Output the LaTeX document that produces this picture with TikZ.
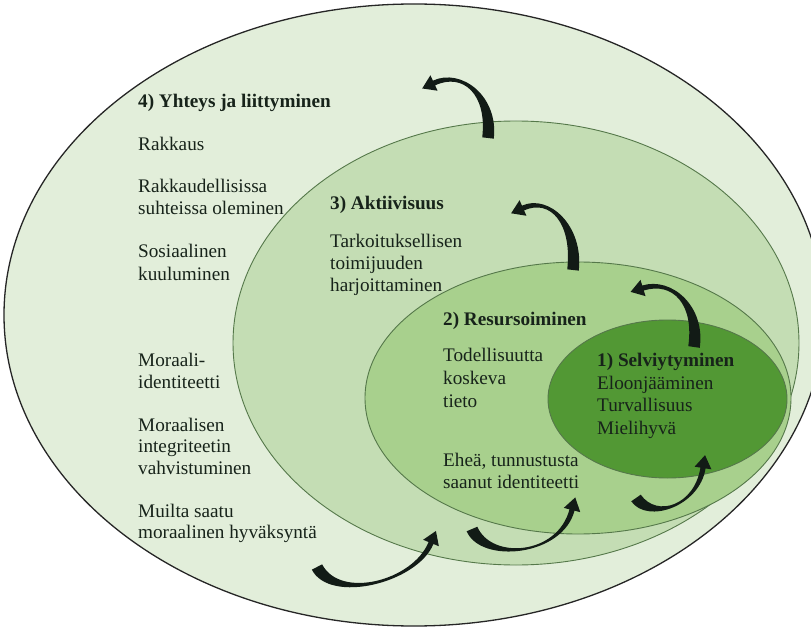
\documentclass[tikz,border=0pt]{standalone}
\usepackage{fontspec}
\setmainfont{Liberation Serif}
\usetikzlibrary{calc}
\definecolor{outerfill}{HTML}{E2EEDA}
\definecolor{aktfill}{HTML}{C4DDB4}
\definecolor{resfill}{HTML}{A8D08D}
\definecolor{selfill}{HTML}{529834}
\definecolor{rimline}{HTML}{55784A}
\definecolor{txt}{HTML}{17231A}
\definecolor{arr}{HTML}{121B16}
\tikzset{
  rim/.style={draw=rimline, line width=0.9pt},
  lbl/.style={anchor=base west, inner sep=0pt, text=txt, font=\fontsize{19.2}{22}\selectfont},
  hdr/.style={lbl, font=\fontsize{19.2}{22}\selectfont\bfseries},
  arrowfill/.style={fill=arr, draw=none}
}
\newcommand{\tkarrow}[5]{%
  \coordinate (#1-0) at #2; \coordinate (#1-1) at #3;
  \coordinate (#1-2) at #4; \coordinate (#1-3) at #5;
  \fill[arrowfill]
    ($(#1-0)!5.8pt!90:(#1-1)$)
    .. controls ($(#1-1)!5.8pt!-90:(#1-0)$) and ($(#1-2)!2.6pt!90:(#1-3)$) ..
    ($(#1-3)!2.6pt!-90:(#1-2)$)
    -- ($(#1-3)!8.5pt!-90:(#1-2)$)
    -- ($(#1-3)!13pt!180:(#1-2)$)
    -- ($(#1-3)!8.5pt!90:(#1-2)$)
    -- ($(#1-3)!2.6pt!90:(#1-2)$)
    .. controls ($(#1-2)!2.6pt!-90:(#1-3)$) and ($(#1-1)!5.8pt!90:(#1-0)$) ..
    ($(#1-0)!5.8pt!-90:(#1-1)$) -- cycle;
}
\begin{document}
\begin{tikzpicture}[x=1pt,y=-1pt]
\useasboundingbox (0,0) rectangle (811,628);
\fill[white] (0,0) rectangle (811,628);
\clip (0,0) rectangle (811,628);
% ellipses
\filldraw[fill=outerfill, draw=black!85, line width=1.3pt] (414,315) ellipse [x radius=410pt, y radius=311pt];
\filldraw[fill=aktfill, rim] (516,343) ellipse [x radius=283pt, y radius=222pt];
\filldraw[fill=resfill, rim] (578,398) ellipse [x radius=213pt, y radius=136pt];
\filldraw[fill=selfill, rim] (667.5,399) ellipse [x radius=119.5pt, y radius=79pt];
% level 4 texts
\node[hdr] (h4) at (138,108) {4) Yhteys ja liittyminen};
\node[lbl] (a1) at (138,150.5) {Rakkaus};
\node[lbl] (a2) at (138,192.5) {Rakkaudellisissa};
\node[lbl] (a3) at (138,214.5) {suhteissa oleminen};
\node[lbl] (a4) at (138,258) {Sosiaalinen};
\node[lbl] (a5) at (138,280) {kuuluminen};
\node[lbl] (a6) at (138,366) {Moraali-};
\node[lbl] (a7) at (138,388) {identiteetti};
\node[lbl] (a8) at (138,431) {Moraalisen};
\node[lbl] (a9) at (138,452.5) {integriteetin};
\node[lbl] (a10) at (138,474) {vahvistuminen};
\node[lbl] (a11) at (138,517) {Muilta saatu};
\node[lbl] (a12) at (138,538.5) {moraalinen hyväksyntä};
% level 3 texts
\node[hdr] (h3) at (330,209.5) {3) Aktiivisuus};
\node[lbl] (b1) at (330,248) {Tarkoituksellisen};
\node[lbl] (b2) at (330,270) {toimijuuden};
\node[lbl] (b3) at (330,292) {harjoittaminen};
% level 2 texts
\node[hdr] (h2) at (443,325) {2) Resursoiminen};
\node[lbl] (c1) at (443,361) {Todellisuutta};
\node[lbl] (c2) at (443,384) {koskeva};
\node[lbl] (c3) at (443,407) {tieto};
\node[lbl] (c4) at (443,466) {Eheä, tunnustusta};
\node[lbl] (c5) at (443,488) {saanut identiteetti};
% level 1 texts
\node[hdr] (h1) at (597,366) {1) Selviytyminen};
\node[lbl] (d1) at (597,389) {Eloonjääminen};
\node[lbl] (d2) at (597,411) {Turvallisuus};
\node[lbl] (d3) at (597,434) {Mielihyvä};
% arrows
\tkarrow{ua}{(488,138)}{(493,95)}{(462,70)}{(434,83)}
\tkarrow{ub}{(573,270)}{(578,225)}{(550,196)}{(523,208)}
\tkarrow{uc}{(694,347)}{(700,305)}{(672,279)}{(643,288)}
\tkarrow{ld}{(317,567)}{(335,602)}{(415,582)}{(431,543)}
\tkarrow{le}{(472,529)}{(486,562)}{(560,556)}{(572,510)}
\tkarrow{lf}{(636,498)}{(652,521)}{(697,506)}{(703,468)}
\end{tikzpicture}
\end{document}
